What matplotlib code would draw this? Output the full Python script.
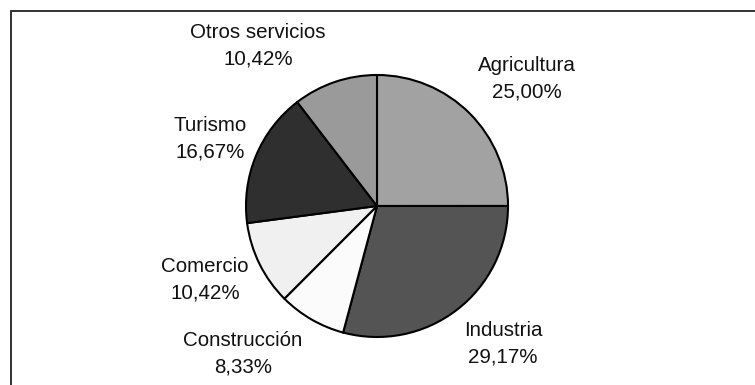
import matplotlib.pyplot as plt
from matplotlib.patches import Rectangle

plt.rcParams['font.family'] = ['Liberation Sans', 'DejaVu Sans']

# sectores, en orden horario desde las 12
sectores = ["Agricultura", "Industria", "Construcción", "Comercio", "Turismo", "Otros servicios"]
porcentajes = [25.00, 29.17, 8.33, 10.42, 16.67, 10.42]
colores = ["#a2a2a2", "#545454", "#fbfbfb", "#f0f0f0", "#2f2f2f", "#9a9a9a"]

# posición de cada etiqueta (px, origen arriba a la izquierda)
etiqueta_xy = [(527, 79), (503, 344), (243, 354), (205, 280), (210, 139), (258, 46)]

W, H = 755, 385
fig = plt.figure(figsize=(W / 100, H / 100), dpi=100)
ax = fig.add_axes([0, 0, 1, 1])

ax.pie(porcentajes, colors=colores, startangle=90, counterclock=False,
       center=(377, H - 206), radius=131,
       wedgeprops=dict(edgecolor="black", linewidth=1.5))

# pie() cambia los límites: se fijan después
ax.set_xlim(0, W)
ax.set_ylim(0, H)
ax.set_aspect("equal")
ax.axis("off")

for nombre, pct, (x, y) in zip(sectores, porcentajes, etiqueta_xy):
    txt = f"{nombre}\n{pct:.2f}%".replace(".", ",")
    ax.text(x, H - y, txt, ha="center", va="center", fontsize=14.8,
            linespacing=1.5, color="#111111")

# marco exterior (abierto por abajo y a la derecha)
ax.add_patch(Rectangle((11, -20), W, H - 11 + 20, fill=False,
                       edgecolor="#222222", linewidth=1.3, clip_on=False))

fig.savefig("out.png", dpi=100)
